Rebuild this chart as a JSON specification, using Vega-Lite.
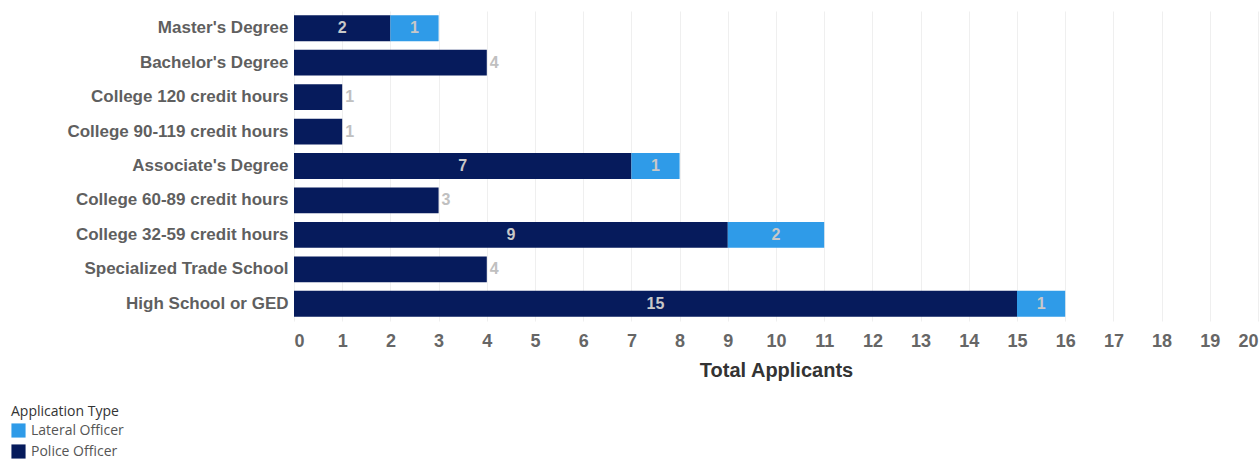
{
  "$schema": "https://vega.github.io/schema/vega-lite/v6.json",
  "autosize": {"type": "none"},
  "padding": {"left": 294, "top": 11, "right": 1, "bottom": 139},
  "width": 964,
  "height": 310,
  "background": "white",
  "config": {"view": {"stroke": null}, "font": "Liberation Sans"},
  "data": {"values": [
    {"education": "Master's Degree", "type": "Police Officer", "applicants": 2},
    {"education": "Master's Degree", "type": "Lateral Officer", "applicants": 1},
    {"education": "Bachelor's Degree", "type": "Police Officer", "applicants": 4},
    {"education": "College 120 credit hours", "type": "Police Officer", "applicants": 1},
    {"education": "College 90-119 credit hours", "type": "Police Officer", "applicants": 1},
    {"education": "Associate's Degree", "type": "Police Officer", "applicants": 7},
    {"education": "Associate's Degree", "type": "Lateral Officer", "applicants": 1},
    {"education": "College 60-89 credit hours", "type": "Police Officer", "applicants": 3},
    {"education": "College 32-59 credit hours", "type": "Police Officer", "applicants": 9},
    {"education": "College 32-59 credit hours", "type": "Lateral Officer", "applicants": 2},
    {"education": "Specialized Trade School", "type": "Police Officer", "applicants": 4},
    {"education": "High School or GED", "type": "Police Officer", "applicants": 15},
    {"education": "High School or GED", "type": "Lateral Officer", "applicants": 1}
  ]},
  "transform": [
    {"calculate": "datum.type === 'Police Officer' ? 0 : 1", "as": "ord"},
    {"stack": "applicants", "groupby": ["education"], "sort": [{"field": "ord", "order": "ascending"}], "as": ["x0", "x1"]},
    {"calculate": "(datum.x0 + datum.x1) / 2", "as": "xmid"},
    {"joinaggregate": [{"op": "count", "as": "n"}], "groupby": ["education"]}
  ],
  "encoding": {
    "y": {
      "field": "education",
      "type": "nominal",
      "sort": ["Master's Degree", "Bachelor's Degree", "College 120 credit hours", "College 90-119 credit hours", "Associate's Degree", "College 60-89 credit hours", "College 32-59 credit hours", "Specialized Trade School", "High School or GED"],
      "scale": {"paddingInner": 0.25, "paddingOuter": 0.125},
      "axis": {
        "title": null, "domain": false, "ticks": false,
        "labelFont": "Liberation Sans", "labelFontSize": 17, "labelFontWeight": "bold",
        "labelColor": "#5f5f5f", "labelPadding": 6, "labelLimit": 300
      }
    }
  },
  "layer": [
    {
      "mark": {"type": "bar"},
      "encoding": {
        "x": {
          "field": "x0", "type": "quantitative",
          "scale": {"domain": [0, 20], "nice": false},
          "axis": {
            "title": "Total Applicants", "values": [0,1,2,3,4,5,6,7,8,9,10,11,12,13,14,15,16,17,18,19,20],
            "domain": false, "ticks": false, "grid": true, "gridColor": "#efefef",
            "labelFont": "Liberation Sans", "labelFontSize": 18, "labelFontWeight": "bold",
            "labelColor": "#666666", "labelPadding": 11, "labelFlush": true,
            "titleFont": "Liberation Sans", "titleFontSize": 20, "titleFontWeight": "bold",
            "titleColor": "#333333", "titlePadding": 10
          }
        },
        "x2": {"field": "x1"},
        "color": {
          "field": "type", "type": "nominal",
          "scale": {"domain": ["Lateral Officer", "Police Officer"], "range": ["#2f9be8", "#061b5c"]},
          "legend": {
            "orient": "none", "legendX": -283, "legendY": 394,
            "title": "Application Type", "titleFont": "Open Sans", "titleFontSize": 14,
            "titleFontWeight": "normal", "titleColor": "#333333", "titlePadding": 4,
            "labelFont": "Open Sans", "labelFontSize": 14, "labelColor": "#555555",
            "symbolType": "square", "symbolSize": 200, "symbolStrokeWidth": 0,
            "rowPadding": 6, "labelOffset": 5
          }
        }
      }
    },
    {
      "transform": [{"filter": "datum.n > 1"}],
      "mark": {"type": "text", "font": "Liberation Sans", "fontSize": 16, "fontWeight": "bold", "color": "#c8c8c8", "align": "center", "baseline": "middle"},
      "encoding": {
        "x": {"field": "xmid", "type": "quantitative"},
        "text": {"field": "applicants", "type": "quantitative"}
      }
    },
    {
      "transform": [{"filter": "datum.n == 1"}],
      "mark": {"type": "text", "font": "Liberation Sans", "fontSize": 16, "fontWeight": "bold", "color": "#c0c0c0", "align": "left", "baseline": "middle", "dx": 3},
      "encoding": {
        "x": {"field": "x1", "type": "quantitative"},
        "text": {"field": "applicants", "type": "quantitative"}
      }
    }
  ]
}
